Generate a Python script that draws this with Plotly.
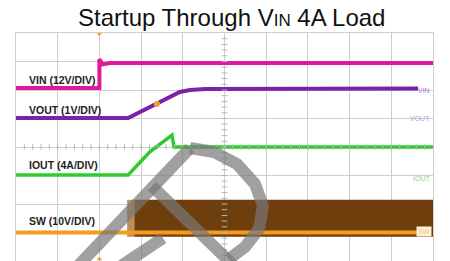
import numpy as np
import plotly.graph_objects as go

# ---- data (time in divisions, level in divisions from bottom of screen) ----
vin_t = [0.0, 2.0, 2.0, 2.08, 2.25, 10.0]
vin_v = [6.07, 6.07, 7.08, 6.90, 6.95, 6.95]

vout_t = [0.0, 2.69, 3.93, 4.17, 4.53, 9.64]
vout_v = [5.02, 5.02, 5.93, 6.00, 6.035, 6.05]

iout_t = [0.0, 2.69, 3.21, 3.74, 3.79, 10.0]
iout_v = [3.02, 3.02, 3.83, 4.42, 4.00, 4.00]

sw_base_t = [0.0, 9.69]
sw_base_v = [1.0, 1.0]
sw_band_t = [2.67, 2.85, 10.0]
sw_band_hi = 2.14
sw_band_lo = 0.86

marker_t = [3.38]
marker_v = [5.51]
trigger_t = [2.0]

left_labels = ["VIN (12V/DIV)", "VOUT (1V/DIV)", "IOUT (4A/DIV)", "SW (10V/DIV)"]
left_label_y = [6.35, 5.30, 3.37, 1.40]

ch_names = ["VIN", "VOUT", "IOUT", "SW"]
ch_nums = ["4", "3", "2", "1"]
ch_ref_y = [6.0, 5.0, 2.88, 1.02]

VIN_C = "#e0189a"
VOUT_C = "#7a22a8"
IOUT_C = "#2fcc2f"
SW_C = "#f39c1e"
SW_BAND = "#6e3f0c"
SW_BAND_START = "#b89058"
GRID = "#cdcdcd"

fig = go.Figure()


def band(x0, x1, color):
    fig.add_trace(go.Scatter(
        x=[x0, x1, x1, x0, x0],
        y=[sw_band_lo, sw_band_lo, sw_band_hi, sw_band_hi, sw_band_lo],
        fill="toself", fillcolor=color, mode="lines",
        line=dict(color=color, width=0.5), hoverinfo="skip"))


band(sw_band_t[0], sw_band_t[1], SW_BAND_START)
band(sw_band_t[1], sw_band_t[2], SW_BAND)

fig.add_trace(go.Scatter(x=sw_base_t, y=sw_base_v, mode="lines",
                         line=dict(color=SW_C, width=4)))
fig.add_trace(go.Scatter(x=iout_t, y=iout_v, mode="lines",
                         line=dict(color=IOUT_C, width=3.5)))
fig.add_trace(go.Scatter(x=vin_t, y=vin_v, mode="lines",
                         line=dict(color=VIN_C, width=4)))
fig.add_trace(go.Scatter(x=vout_t, y=vout_v, mode="lines",
                         line=dict(color=VOUT_C, width=4)))
fig.add_trace(go.Scatter(x=marker_t, y=marker_v, mode="markers",
                         marker=dict(color="#f5a030", size=6)))

# center-line graticule minor ticks
minor = np.arange(0.2, 10.0, 0.2)
fig.add_trace(go.Scatter(x=minor, y=[4.0] * len(minor), mode="markers",
                         marker=dict(symbol="line-ns", size=4,
                                     line=dict(color="#b5b5b5", width=1))))
minor_y = np.arange(0.2, 8.0, 0.2)
fig.add_trace(go.Scatter(x=[5.0] * len(minor_y), y=minor_y, mode="markers",
                         marker=dict(symbol="line-ew", size=4,
                                     line=dict(color="#b5b5b5", width=1))))

# trigger position markers on top / bottom edges
fig.add_trace(go.Scatter(x=trigger_t, y=[7.97], mode="markers", cliponaxis=False,
                         marker=dict(symbol="triangle-down", size=5, color=SW_C)))
fig.add_trace(go.Scatter(x=trigger_t, y=[0.07], mode="markers", cliponaxis=False,
                         marker=dict(symbol="triangle-up", size=5, color=SW_C)))

ann = []
for lab, yy in zip(left_labels, left_label_y):
    ann.append(dict(x=0.26, y=yy, xref="x", yref="y", text="<b>" + lab + "</b>",
                    showarrow=False, xanchor="left", yanchor="middle",
                    font=dict(family="Liberation Sans, Arial", size=10.5, color="#1e1e1e")))

name_cols = ["#b37ad3", "#c596e0", "#86d886", "#f2c478"]
num_cols = ["#9a4ec0", "#9a4ec0", "#3fbf3f", "#eba436"]
for nm, num, yy, c1, c2 in zip(ch_names, ch_nums, ch_ref_y, name_cols, num_cols):
    a = dict(x=9.98, y=yy, xref="x", yref="y", text=nm, showarrow=False,
             xanchor="right", yanchor="middle",
             font=dict(family="Liberation Sans, Arial", size=7, color=c1))
    if nm == "SW":
        a["bgcolor"] = "#fbf1dc"
    ann.append(a)
    ann.append(dict(x=10.04, y=yy, xref="x", yref="y", text="↰" + num, showarrow=False,
                    xanchor="left", yanchor="middle",
                    font=dict(family="DejaVu Sans", size=6.5, color=c2)))
ann.append(dict(x=10.04, y=6.6, xref="x", yref="y", text="← T", showarrow=False,
                xanchor="left", yanchor="middle",
                font=dict(family="DejaVu Sans", size=6, color="#e060b0")))

ann.append(dict(x=0.517, y=1.070, xref="paper", yref="paper", yanchor="middle",
                text="Startup Through V<span style='font-size:17px'>IN</span> 4A Load",
                showarrow=False,
                font=dict(family="Liberation Sans, Arial", size=24, color="#111111")))

# ---- faint diagonal watermark (decoration, screen-pixel geometry) ----
PL, PT, PW, PH, H = 16, 33, 417, 228, 261


def px(x, y):
    return (x - PL) / PW, (H - y) / PH


def path(pts, closed=False):
    s = ""
    for i, (x, y) in enumerate(pts):
        xp, yp = px(x, y)
        s += ("M" if i == 0 else "L") + f"{xp:.4f},{yp:.4f} "
    return s + ("Z" if closed else "")


WM = "rgba(120,120,120,0.70)"
strokes = [
    [(76, 268), (190, 148)],
    [(152, 186), (233, 265)],
    [(190, 148), (214, 152), (237, 164), (255, 184), (263, 206), (259, 229), (245, 247), (229, 259)],
    [(118, 268), (163, 238)],
]
shapes = [dict(type="path", xref="paper", yref="paper", path=path(s),
               line=dict(color=WM, width=12), layer="above") for s in strokes]

fig.update_layout(
    width=450, height=261,
    margin=dict(l=16, r=17, t=33, b=0, pad=0),
    paper_bgcolor="white", plot_bgcolor="white",
    showlegend=False, annotations=ann, shapes=shapes,
    xaxis=dict(range=[0, 10], dtick=1, showgrid=True, gridcolor=GRID, gridwidth=1,
               zeroline=False, showticklabels=False, ticks="",
               showline=True, linecolor=GRID, mirror=True, fixedrange=True),
    yaxis=dict(range=[0, 8], dtick=1, showgrid=True, gridcolor=GRID, gridwidth=1,
               zeroline=False, showticklabels=False, ticks="",
               showline=True, linecolor=GRID, mirror=True, fixedrange=True),
)

# remove the browser's default 8px body margin so the figure sits at the window origin
fig.write_html("out.html",
               config={"displayModeBar": False, "staticPlot": True},
               post_script="document.body.style.margin='0';document.body.style.overflow='hidden';")
